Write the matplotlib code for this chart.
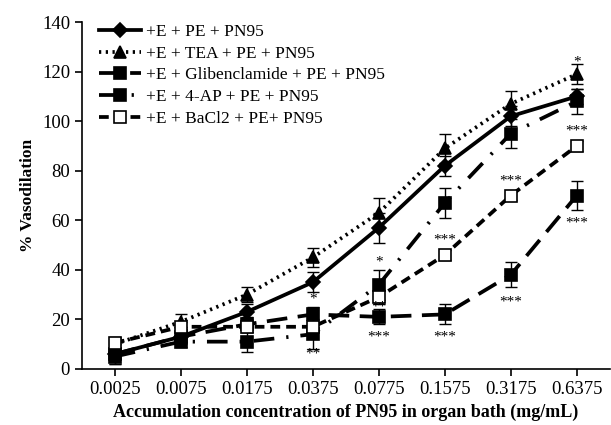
import matplotlib
matplotlib.use('Agg')
import matplotlib.pyplot as plt
import numpy as np

plt.rcParams['font.family'] = ['Liberation Serif', 'DejaVu Serif']

conc = ['0.0025', '0.0075', '0.0175', '0.0375', '0.0775', '0.1575', '0.3175', '0.6375']

ctrl = [6, 13, 23, 35, 57, 82, 102, 110]
ctrl_err = [4, 3, 3, 4, 6, 4, 4, 3]
tea = [10, 19, 30, 45, 63, 89, 107, 119]
tea_err = [3, 3, 3, 4, 6, 6, 5, 4]
glib = [6, 13, 18, 22, 21, 22, 38, 70]
glib_err = [2, 2, 3, 3, 3, 4, 5, 6]
ap4 = [5, 11, 11, 14, 34, 67, 95, 108]
ap4_err = [3, 2, 4, 6, 6, 6, 6, 5]
bacl = [10.5, 17, 17, 17, 29, 46, 70, 90]
bacl_err = [2, 2, 2, 2, 3, 2, 2, 2]

# significance marks: (x index, y, text)
stars = [(7, 124, '*'), (7, 96, '***'), (7, 59, '***'),
         (6, 76, '***'), (6, 27, '***'),
         (5, 52, '***'), (5, 13, '***'),
         (4, 43, '*'), (4, 25, '**'), (4, 13, '***'),
         (3, 28, '*'), (3, 6, '**')]

x = np.arange(len(conc))

fig = plt.figure(figsize=(6.11, 4.25), dpi=100)
ax = fig.add_axes([0.134, 0.132, 0.864, 0.816])

series = [
    (ctrl, ctrl_err, '+E + PE + PN95', dict(linestyle='-', marker='D', mfc='black', ms=7)),
    (tea, tea_err, '+E + TEA + PE + PN95', dict(linestyle=(0, (0.6, 1.2)), marker='^', mfc='black', ms=9)),
    (glib, glib_err, '+E + Glibenclamide + PE + PN95', dict(linestyle=(0, (5.5, 2.8)), marker='s', mfc='black', ms=9)),
    (ap4, ap4_err, '+E + 4-AP + PE + PN95', dict(linestyle=(0, (5.5, 3.2, 0.6, 3.2)), marker='s', mfc='black', ms=9)),
    (bacl, bacl_err, '+E + BaCl2 + PE+ PN95', dict(linestyle=(0, (2.6, 1.6)), marker='s', mfc='white', ms=9)),
]

for vals, err, lab, st in series:
    ax.errorbar(x, vals, yerr=err, fmt='none', ecolor='black', elinewidth=1, capsize=4, capthick=1)
for vals, err, lab, st in series:
    ax.plot(x, vals, color='black', lw=2.7, mec='black', mew=1.2, label=lab, **st)

for xi, yv, t in stars:
    ax.text(xi, yv, t, ha='center', va='center', fontsize=11)

ax.set_xlim(-0.5, 7.5)
ax.set_ylim(0, 140)
ax.set_yticks(np.arange(0, 141, 20))
ax.set_xticks(x)
ax.set_xticklabels(conc)
ax.tick_params(labelsize=13.5, direction='out', length=5, width=1.2)
ax.spines['top'].set_visible(False)
ax.spines['right'].set_visible(False)
ax.spines['left'].set_linewidth(1.2)
ax.spines['bottom'].set_linewidth(1.2)

ax.set_ylabel('% Vasodilation', fontsize=12.5, fontweight='bold')
ax.set_xlabel('Accumulation concentration of PN95 in organ bath (mg/mL)', fontsize=13, fontweight='bold')

ax.legend(loc='upper left', bbox_to_anchor=(0.01, 1.03), frameon=False, fontsize=12.5,
          handlelength=2.4, handletextpad=0.3, labelspacing=0.32, borderaxespad=0.3)

fig.savefig('out.png', dpi=100)
